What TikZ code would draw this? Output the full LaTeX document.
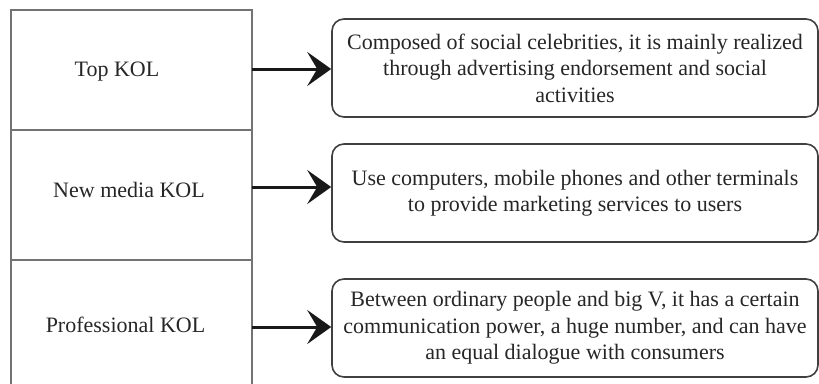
\documentclass[tikz,border=0pt]{standalone}
\usepackage{fontspec}
\setmainfont{Liberation Serif}
\usetikzlibrary{arrows.meta}
\begin{document}
\begin{tikzpicture}[x=1pt,y=-1pt,
  cell/.style={draw=black!55,line width=1.4pt},
  desc/.style={draw=black!75,line width=1.6pt,rounded corners=12pt,minimum width=486pt,minimum height=98pt,align=center,text=black!85,font=\fontsize{22}{26.5}\selectfont,inner sep=0pt},
  lab/.style={text=black!85,font=\fontsize{22}{24}\selectfont,inner sep=0pt},
  conn/.style={line width=3pt,black!90,-{Stealth[length=24pt,width=34pt,inset=10pt]}}]
\useasboundingbox (0,0) rectangle (819,383);
\clip (0,0) rectangle (819,383);
% left column
\draw[cell] (11,400) -- (11,10) -- (252,10) -- (252,400);
\draw[cell] (11,130) -- (252,130);
\draw[cell] (11,260) -- (252,260);
\coordinate (r1) at (252,69);
\coordinate (r2) at (252,187);
\coordinate (r3) at (252,327);
\node[lab] (l1) at (117,72) {Top KOL};
\node[lab] (l2) at (129,190) {New media KOL};
\node[lab] (l3) at (125.5,325) {Professional KOL};
% right boxes
\node[desc] (b1) at (575,68) {Composed of social celebrities, it is mainly realized\\through advertising endorsement and social\\activities};
\node[desc] (b2) at (575,193) {Use computers, mobile phones and other terminals\\to provide marketing services to users};
\node[desc] (b3) at (575,328) {Between ordinary people and big V, it has a certain\\communication power, a huge number, and can have\\an equal dialogue with consumers};
\draw[conn] (r1) -- (r1 -| b1.west);
\draw[conn] (r2) -- (r2 -| b2.west);
\draw[conn] (r3) -- (r3 -| b3.west);
\end{tikzpicture}
\end{document}
